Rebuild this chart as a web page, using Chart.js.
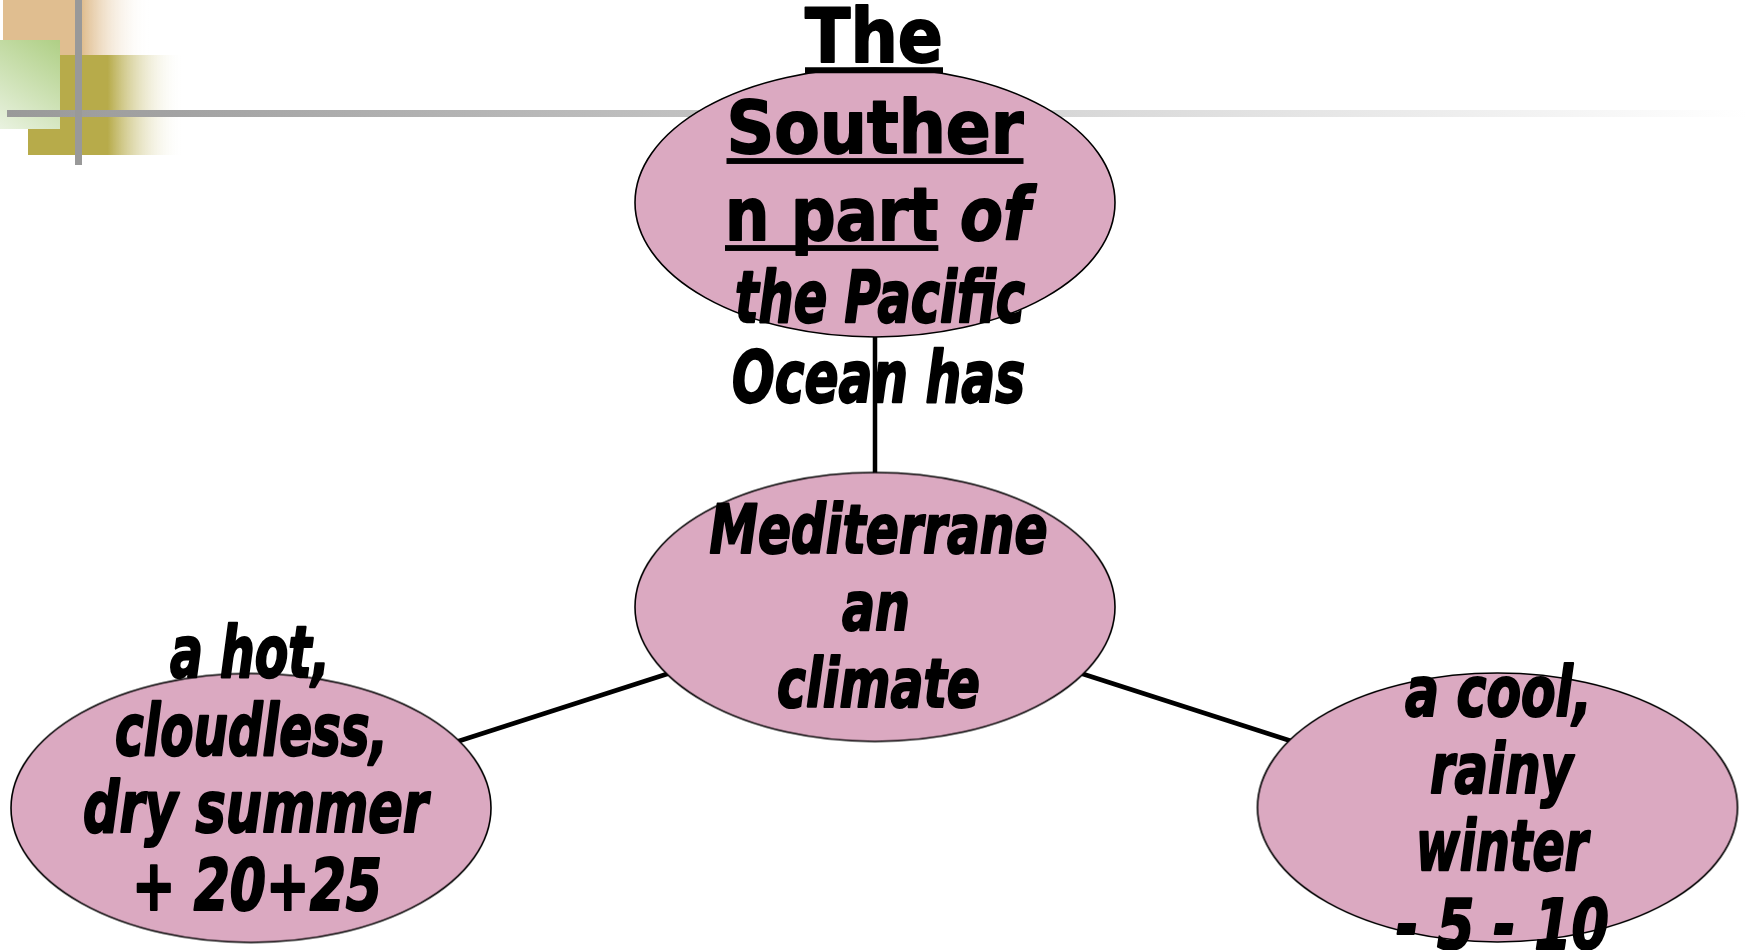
<!DOCTYPE html>
<html>
<head>
<meta charset="utf-8">
<script src="https://cdn.jsdelivr.net/npm/chart.js@4"></script>
<style>
  html, body { margin: 0; padding: 0; background: #ffffff; overflow: hidden; }
  #wrap { width: 1747px; height: 950px; }
</style>
</head>
<body>
<div id="wrap"><canvas id="c" width="1747" height="950"></canvas></div>
<script>
// ---- data ----
const nodeNames = ["top", "middle", "left", "right"];
const nodeX = [875, 875, 251, 1497.5];
const nodeY = [202.5, 607, 808, 807.5];
const edgesFrom = [1, 1, 1];
const edgesTo = [0, 2, 3];
// label runs: [text, style]  u = bold underlined upright, i = bold italic
const labelTop = [
  [["The", "u"]],
  [["Souther", "u"]],
  [["n part", "u"], [" of", "i"]],
  [["the Pacific", "i"]],
  [["Ocean has", "i"]]
];
const labelMiddle = [[["Mediterrane", "i"]], [["an", "i"]], [["climate", "i"]]];
const labelLeft = [[["a hot,", "i"]], [["cloudless,", "i"]], [["dry summer", "i"]], [["+ 20+25", "i"]]];
const labelRight = [[["a cool,", "i"]], [["rainy", "i"]], [["winter", "i"]], [["- 5 - 10", "i"]]];
const nodeLabels = [labelTop, labelMiddle, labelLeft, labelRight];

// ---- layout / style (not data) ----
const ellipseRx = 240, ellipseRy = 134.5;
const ellipseFill = "#dba9c1";
const labelLayout = [
  { size: [75, 73, 73, 71, 71], dy: [-140.5, -49.5, 37.5, 119.5, 199.5], w: [138, 297, 305, 290, 293], dx: [-1, 0, 2.5, 5, 3.5] },
  { size: [68, 68, 68], dy: [-54, 23, 100], w: [338, 68, 203], dx: [3.5, 1, 3.5] },
  { size: [71, 71, 71, 71], dy: [-131, -53, 24, 102], w: [160, 273, 345, 250], dx: [-1, 0.5, 4.5, 6] },
  { size: [69, 69, 69, 69], dy: [-91.5, -14.5, 62.5, 141], w: [187, 143, 172, 213], dx: [1, 4, 4.5, 5] }
];
const FONT = '"DejaVu Sans", Verdana, sans-serif';

function makeEllipse() {
  const cv = document.createElement("canvas");
  cv.width = Math.round(ellipseRx * 2 + 4);
  cv.height = Math.round(ellipseRy * 2 + 4);
  const g = cv.getContext("2d");
  g.beginPath();
  g.ellipse(cv.width / 2, cv.height / 2, ellipseRx, ellipseRy, 0, 0, Math.PI * 2);
  g.fillStyle = ellipseFill;
  g.fill();
  g.lineWidth = 1.6;
  g.strokeStyle = "#000000";
  g.stroke();
  return cv;
}
const ellipseImg = makeEllipse();

const nodePoints = nodeX.map((x, i) => ({ x: x, y: nodeY[i] }));
const edgeDatasets = edgesFrom.map((f, i) => ({
  label: "edge" + i,
  data: [nodePoints[f], nodePoints[edgesTo[i]]],
  showLine: true,
  borderColor: "#000000",
  borderWidth: 4.5,
  pointRadius: 0,
  fill: false,
  order: 2
}));

const decorPlugin = {
  id: "decor",
  beforeDatasetsDraw(chart) {
    const ctx = chart.ctx;
    ctx.save();
    let g = ctx.createLinearGradient(3, 0, 150, 0);
    g.addColorStop(0, "#e0be90");
    g.addColorStop(0.54, "#e0be90");
    g.addColorStop(1, "rgba(255,255,255,0)");
    ctx.fillStyle = g;
    ctx.fillRect(3, 0, 147, 55);
    g = ctx.createLinearGradient(28, 0, 184, 0);
    g.addColorStop(0, "#b7ab4a");
    g.addColorStop(0.51, "#b7ab4a");
    g.addColorStop(1, "rgba(255,255,255,0)");
    ctx.fillStyle = g;
    ctx.fillRect(28, 55, 156, 100);
    g = ctx.createLinearGradient(60, 40, 0, 129);
    g.addColorStop(0, "#afcf85");
    g.addColorStop(1, "#e9f2e0");
    ctx.fillStyle = g;
    ctx.fillRect(0, 40, 60, 89);
    g = ctx.createLinearGradient(7, 0, 1747, 0);
    g.addColorStop(0, "#999999");
    g.addColorStop(1, "#ffffff");
    ctx.fillStyle = g;
    ctx.fillRect(7, 110, 1740, 7);
    ctx.fillStyle = "#999999";
    ctx.fillRect(75, 0, 7, 165);
    ctx.restore();
  }
};

function fontFor(kind, size) {
  return (kind === "i" ? "italic " : "") + "bold " + size + "px " + FONT;
}

const labelPlugin = {
  id: "labels",
  afterDatasetsDraw(chart) {
    const ctx = chart.ctx;
    const meta = chart.getDatasetMeta(chart.data.datasets.length - 1);
    ctx.save();
    ctx.fillStyle = "#000000";
    ctx.strokeStyle = "#000000";
    ctx.lineJoin = "round";
    ctx.textBaseline = "alphabetic";
    ctx.textAlign = "left";
    nodeLabels.forEach((lines, ni) => {
      const el = meta.data[ni];
      const lay = labelLayout[ni];
      lines.forEach((runs, li) => {
        const size = lay.size[li];
        let total = 0;
        const widths = runs.map(r => { ctx.font = fontFor(r[1], size); const w = ctx.measureText(r[0]).width; total += w; return w; });
        const sx = lay.w[li] / total;
        const cx = el.x + lay.dx[li];
        const by = el.y + lay.dy[li];
        ctx.save();
        ctx.translate(cx, by);
        ctx.scale(sx, 1);
        ctx.lineWidth = 1.6 / sx;
        let x = -total / 2;
        runs.forEach((r, ri) => {
          ctx.font = fontFor(r[1], size);
          ctx.fillText(r[0], x, 0);
          ctx.strokeText(r[0], x, 0);
          if (r[1] === "u") {
            ctx.fillRect(x, size * 0.07, widths[ri], size * 0.08);
          }
          x += widths[ri];
        });
        ctx.restore();
      });
    });
    ctx.restore();
  }
};

new Chart(document.getElementById("c"), {
  type: "scatter",
  data: {
    datasets: edgeDatasets.concat([{
      label: "nodes",
      data: nodePoints,
      pointStyle: ellipseImg,
      pointRadius: 10,
      pointHoverRadius: 10,
      order: 1
    }])
  },
  options: {
    responsive: false,
    animation: false,
    events: [],
    layout: { padding: 0, autoPadding: false },
    plugins: { legend: { display: false }, tooltip: { enabled: false }, title: { display: false } },
    scales: {
      x: { type: "linear", min: 0, max: 1747, display: false },
      y: { type: "linear", min: 0, max: 950, reverse: true, display: false }
    }
  },
  plugins: [decorPlugin, labelPlugin]
});
</script>
</body>
</html>
